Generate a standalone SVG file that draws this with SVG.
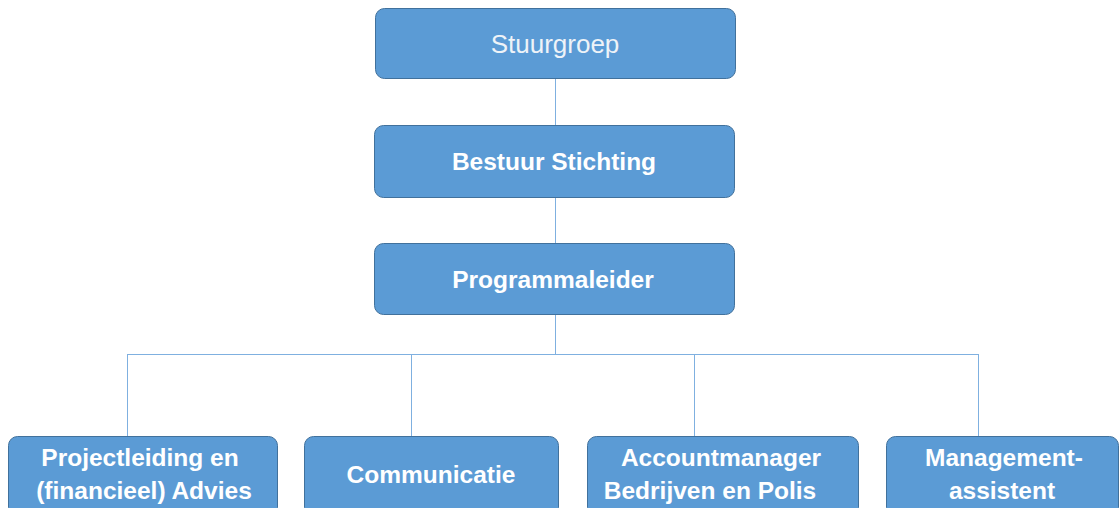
<svg xmlns="http://www.w3.org/2000/svg" width="1120" height="508" viewBox="0 0 1120 508">
<style>
.box{fill:#5B9BD5;stroke:#41719C;stroke-width:1}
.t{font-family:"Liberation Sans",Arial,sans-serif;font-size:24.5px;font-weight:bold;fill:#FFFFFF;text-anchor:middle}
.tl{font-family:"Liberation Sans",Arial,sans-serif;font-size:26px;fill:#EEF3F8;text-anchor:middle}
.c{stroke:#7FB0E0;stroke-width:1;fill:none}
</style>
<rect width="1120" height="508" fill="#FFFFFF"/>
<g id="connectors">
<line class="c" x1="555.5" y1="79" x2="555.5" y2="125"/>
<line class="c" x1="555.5" y1="198" x2="555.5" y2="243"/>
<line class="c" x1="555.5" y1="315" x2="555.5" y2="354"/>
<line class="c" x1="127.5" y1="354.5" x2="978.5" y2="354.5"/>
<line class="c" x1="127.5" y1="354" x2="127.5" y2="436"/>
<line class="c" x1="411.5" y1="354" x2="411.5" y2="436"/>
<line class="c" x1="694.5" y1="354" x2="694.5" y2="436"/>
<line class="c" x1="978.5" y1="354" x2="978.5" y2="436"/>
</g>
<g id="stuurgroep">
<rect class="box" x="375.5" y="8.5" width="360" height="70" rx="9"/>
<text class="tl" x="555" y="53">Stuurgroep</text>
</g>
<g id="bestuur">
<rect class="box" x="374.5" y="125.5" width="360" height="72" rx="9"/>
<text class="t" x="554" y="170">Bestuur Stichting</text>
</g>
<g id="programmaleider">
<rect class="box" x="374.5" y="243.5" width="360" height="71" rx="9"/>
<text class="t" x="553" y="288">Programmaleider</text>
</g>
<g id="projectleiding">
<rect class="box" x="8.5" y="436.5" width="269" height="80" rx="9"/>
<text class="t" x="140" y="466">Projectleiding en</text>
<text class="t" x="144" y="499">(financieel) Advies</text>
</g>
<g id="communicatie">
<rect class="box" x="304.5" y="436.5" width="254" height="80" rx="9"/>
<text class="t" x="431" y="483">Communicatie</text>
</g>
<g id="accountmanager">
<rect class="box" x="587.5" y="436.5" width="271" height="80" rx="9"/>
<text class="t" x="721" y="466">Accountmanager</text>
<text class="t" x="710" y="499">Bedrijven en Polis</text>
</g>
<g id="managementassistent">
<rect class="box" x="886.5" y="436.5" width="232" height="80" rx="9"/>
<text class="t" x="1004" y="466">Management-</text>
<text class="t" x="1002" y="499">assistent</text>
</g>
</svg>
